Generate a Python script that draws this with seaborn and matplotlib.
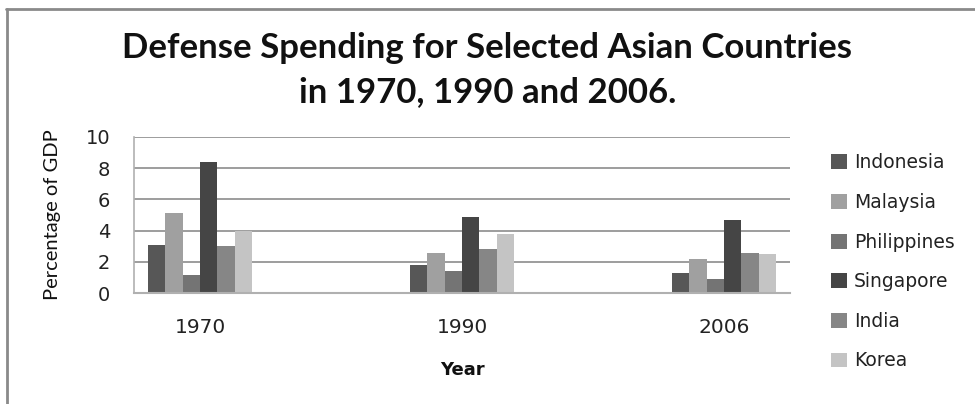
import matplotlib
matplotlib.use("Agg")
import matplotlib.pyplot as plt
from matplotlib.lines import Line2D
from matplotlib.patches import Patch
import seaborn as sns
import pandas as pd

# Defense spending as a share of GDP
years = ["1970", "1990", "2006"]
countries = ["Indonesia", "Malaysia", "Philippines", "Singapore", "India", "Korea"]
indonesia = [3.1, 1.8, 1.3]
malaysia = [5.1, 2.6, 2.2]
philippines = [1.2, 1.4, 0.9]
singapore = [8.4, 4.9, 4.7]
india = [3.0, 2.8, 2.6]
korea = [4.0, 3.8, 2.5]
y_ticks = [0, 2, 4, 6, 8, 10]

series = [indonesia, malaysia, philippines, singapore, india, korea]
df = pd.DataFrame(
    [(y, c, v) for c, vals in zip(countries, series) for y, v in zip(years, vals)],
    columns=["Year", "Country", "Value"],
)

colors = ["#575757", "#a0a0a0", "#747474", "#454545", "#868686", "#c4c4c4"]

sns.set_theme(style="white")
plt.rcParams["font.family"] = ["DejaVu Sans"]

fig = plt.figure(figsize=(9.75, 4.04), dpi=100)
ax = fig.add_axes([134 / 975, 1 - 293.3 / 404, (790 - 134) / 975, (293.3 - 136.7) / 404])

sns.barplot(
    data=df, x="Year", y="Value", hue="Country", order=years, hue_order=countries,
    palette=colors, width=0.4, saturation=1, linewidth=0, ax=ax, legend=False,
)

ax.set_xlim(-0.252, 2.252)
ax.set_ylim(0, 10)
ax.set_yticks(y_ticks)
ax.set_yticklabels([str(t) for t in y_ticks], fontsize=14, color="#222222")
ax.tick_params(axis="x", labelsize=14.5, labelcolor="#222222", length=0, pad=18)
ax.tick_params(axis="y", length=0, pad=17)

for t in y_ticks[1:]:
    ax.axhline(t, color="#8c8c8c", linewidth=1.2, zorder=0)
ax.set_axisbelow(True)

for side in ["top", "right"]:
    ax.spines[side].set_visible(False)
ax.spines["left"].set_color("#b0b0b0")
ax.spines["left"].set_linewidth(1.2)
ax.spines["bottom"].set_color("#b0b0b0")
ax.spines["bottom"].set_linewidth(1.5)

ax.set_xlabel("Year", fontsize=13, fontweight="bold", labelpad=17, color="#111111")
ax.set_ylabel("Percentage of GDP", fontsize=14.5, family=["Lato"], labelpad=18,
              color="#111111")

handles = [Patch(facecolor=c, edgecolor="none") for c in colors]
leg = fig.legend(
    handles, countries, loc="upper left", bbox_to_anchor=(822 / 975, 1 - 144 / 404),
    frameon=False, fontsize=13.5, handlelength=0.85, handleheight=0.85,
    handletextpad=0.35, labelspacing=1.1, borderpad=0,
)
for t in leg.get_texts():
    t.set_color("#222222")

fig.text(0.5, 1 - 48 / 404, "Defense Spending for Selected Asian Countries",
         ha="center", va="center", fontsize=25, fontweight="bold",
         family=["Lato"], color="#111111")
fig.text(0.5, 1 - 92 / 404, "in 1970, 1990 and 2006.",
         ha="center", va="center", fontsize=25, fontweight="bold",
         family=["Lato"], color="#111111")

# Chart frame: top and left edges
fig.add_artist(Line2D([6 / 975, 1], [1 - 9 / 404, 1 - 9 / 404], transform=fig.transFigure,
                      color="#8a8a8a", linewidth=2))
fig.add_artist(Line2D([6.5 / 975, 6.5 / 975], [0, 1 - 9 / 404], transform=fig.transFigure,
                      color="#8a8a8a", linewidth=2))

fig.savefig("out.png", dpi=100, facecolor="white")
